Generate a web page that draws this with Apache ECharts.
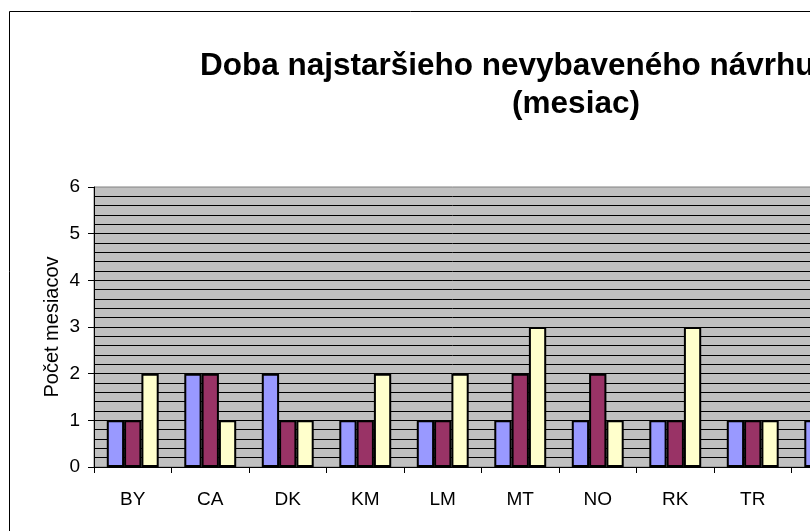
<!DOCTYPE html>
<html><head><meta charset="utf-8">
<script src="https://cdn.jsdelivr.net/npm/echarts@6/dist/echarts.min.js"></script>
<style>html,body{margin:0;padding:0;background:#fff}#c{width:810px;height:531px}</style>
</head><body><div id="c"></div>
<script>
const categories = ['BY', 'CA', 'DK', 'KM', 'LM', 'MT', 'NO', 'RK', 'TR', ''];
const seriesNames = ['Séria 1', 'Séria 2', 'Séria 3'];
const series1 = [1, 2, 2, 1, 1, 1, 1, 1, 1, 1];
const series2 = [1, 2, 1, 1, 1, 2, 2, 1, 1, null];
const series3 = [2, 1, 1, 2, 2, 3, 1, 3, 1, null];
const yMin = 0, yMax = 6, yStep = 1;
const titleLine1 = 'Doba najstaršieho nevybaveného návrhu';
const titleLine2 = '(mesiac)';
const yName = 'Počet mesiacov';
const colors = ['#9999FF', '#993366', '#FFFFCC'];
const FONT = "'Liberation Sans', Arial, sans-serif";

const chart = echarts.init(document.getElementById('c'), null, {renderer: 'canvas'});
const mk = (name, data, color) => ({
  name, type: 'bar', data,
  barGap: '0%', barCategoryGap: '33%',
  itemStyle: {color, borderColor: '#000', borderWidth: 2},
  z: 3
});
chart.setOption({
  animation: false,
  backgroundColor: '#fff',
  textStyle: {fontFamily: FONT},
  title: [
    {text: titleLine1, left: 195, top: 45, textStyle: {fontFamily: FONT, fontSize: 31.5, fontWeight: 'bold', color: '#000'}},
    {text: titleLine2, left: 571, top: 83, textAlign: 'center', textStyle: {fontFamily: FONT, fontSize: 31.5, fontWeight: 'bold', color: '#000'}}
  ],
  graphic: [
    {type: 'rect', shape: {x: 9.5, y: 11.5, width: 1000, height: 700}, style: {fill: 'none', stroke: '#000', lineWidth: 1}, z: -10, silent: true}
  ],
  grid: {left: 94, top: 187, width: 775, height: 280, show: true, backgroundColor: '#C0C0C0', borderColor: '#808080', borderWidth: 1, containLabel: false, outerBoundsMode: 'none'},
  xAxis: {
    type: 'category', data: categories,
    axisLine: {show: true, lineStyle: {color: '#000', width: 1}},
    axisTick: {show: true, length: 6, lineStyle: {color: '#000'}},
    axisLabel: {fontSize: 19, color: '#000', margin: 23, fontFamily: FONT},
    splitLine: {show: false}
  },
  yAxis: {
    type: 'value', min: yMin, max: yMax, interval: yStep,
    name: yName, nameLocation: 'middle', nameGap: 32, nameMoveOverlap: false,
    nameTextStyle: {fontSize: 20, color: '#000', fontFamily: FONT},
    axisLine: {show: true, lineStyle: {color: '#000', width: 1}},
    axisTick: {show: true, length: 6, lineStyle: {color: '#000'}},
    axisLabel: {fontSize: 19, color: '#000', margin: 14, fontFamily: FONT},
    splitLine: {show: true, showMaxLine: false, lineStyle: {color: '#000', width: 1}},
    minorTick: {show: false, splitNumber: 5},
    minorSplitLine: {show: true, lineStyle: {color: '#000', width: 1}}
  },
  series: [
    mk(seriesNames[0], series1, colors[0]),
    mk(seriesNames[1], series2, colors[1]),
    mk(seriesNames[2], series3, colors[2])
  ]
});
</script>
</body></html>
